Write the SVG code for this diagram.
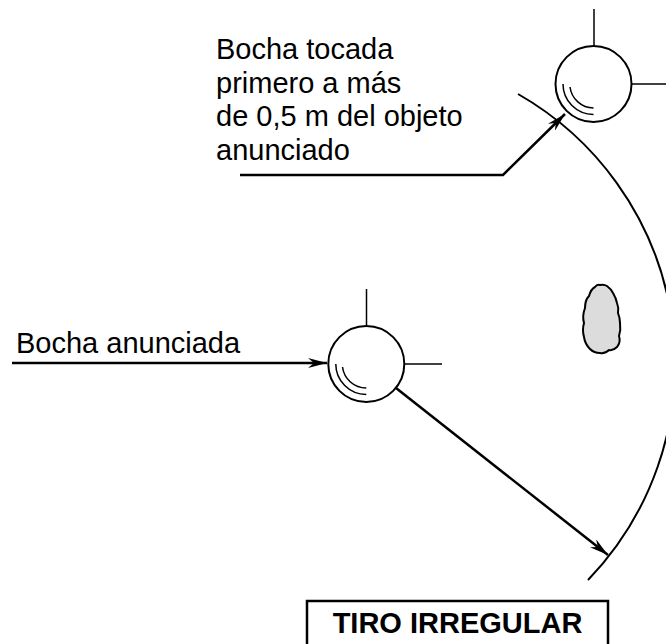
<svg xmlns="http://www.w3.org/2000/svg" width="666" height="644" viewBox="0 0 666 644">
<defs>
<style>
.lbl{font-family:"Liberation Sans",Arial,sans-serif;font-size:29px;fill:#000}
.ttl{font-family:"Liberation Sans",Arial,sans-serif;font-size:29px;font-weight:bold;fill:#000}
.ball{fill:#fff;stroke:#000;stroke-width:2}
.tick{stroke:#000;stroke-width:1.5;fill:none}
.shine{stroke:#000;stroke-width:1.5;fill:none}
.conn{stroke:#000;stroke-width:2.5;fill:none}
</style>
<marker id="ah" markerUnits="userSpaceOnUse" markerWidth="20" markerHeight="10" refX="19" refY="5" orient="auto">
<path d="M0,0 L19,5 L0,10 L6,5 Z" fill="#000"/>
</marker>
</defs>
<rect width="666" height="644" fill="#fff"/>

<g id="arc">
<path d="M518,94 A311,311 0 0 1 588,580" fill="none" stroke="#000" stroke-width="2"/>
</g>

<g id="stone">
<path d="M600,285 Q604,284 607,286 Q611,289 613,293 Q616,298 617,303 Q619,308 618,313 Q620,318 620,323 Q621,330 619,336 Q621,342 617,347 Q613,351 609,350 Q605,354 600,353 Q594,353 590,349 Q585,344 584,337 Q582,330 584,323 Q582,316 585,308 Q585,300 589,296 Q591,289 595,287 Q597,284 600,285 Z" fill="#dcdcdc" stroke="#000" stroke-width="2"/>
</g>

<g id="ball-top">
<line class="tick" x1="594" y1="9" x2="594" y2="46"/>
<line class="tick" x1="632" y1="84" x2="666" y2="84"/>
<circle class="ball" cx="593.5" cy="84" r="38"/>
<path class="shine" d="M563,84 A30.5,30.5 0 0 0 593.5,114.5"/>
<path class="shine" d="M570,87 A24,24 0 0 0 593.5,108"/>
</g>

<g id="ball-announced">
<line class="tick" x1="366.5" y1="289" x2="366.5" y2="326"/>
<line class="tick" x1="404" y1="364" x2="442" y2="364"/>
<circle class="ball" cx="366.3" cy="364" r="38"/>
<path class="shine" d="M335.8,364 A30.5,30.5 0 0 0 366.3,394.5"/>
<path class="shine" d="M342.5,367 A24,24 0 0 0 366.3,388"/>
</g>

<g id="connectors">
<path class="conn" d="M12,363 H327" marker-end="url(#ah)"/>
<path class="conn" d="M240,175 H503 L565,114" marker-end="url(#ah)"/>
<path class="conn" d="M396,388 L608,555" marker-end="url(#ah)"/>
</g>

<g id="label-top">
<text class="lbl" x="216" y="59">Bocha tocada</text>
<text class="lbl" x="216" y="93">primero a más</text>
<text class="lbl" x="216" y="126">de 0,5 m del objeto</text>
<text class="lbl" x="216" y="160">anunciado</text>
</g>

<g id="label-announced">
<text class="lbl" x="16" y="353">Bocha anunciada</text>
</g>

<g id="title">
<rect x="307" y="601" width="301" height="60" fill="#fff" stroke="#000" stroke-width="2.5"/>
<text class="ttl" x="457.5" y="633" text-anchor="middle">TIRO IRREGULAR</text>
</g>
</svg>
